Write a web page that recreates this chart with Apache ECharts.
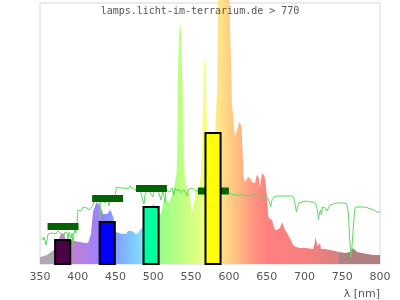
<!DOCTYPE html>
<html>
<head>
<meta charset="utf-8">
<script src="https://cdn.jsdelivr.net/npm/echarts@6/dist/echarts.min.js"></script>
<style>html,body{margin:0;padding:0;background:#fff}#c{width:400px;height:300px}</style>
</head>
<body>
<div id="c"></div>
<script>
// Lamp spectrum (relative intensity) by wavelength in nm
const spectrumWl = [350,355.3,359.3,361.9,364.6,367.2,368.5,371,374,376,378,379.5,381,383,386,389,391,396,403,409.6,413.5,415,417.5,418.8,420.1,422.8,425.4,428,430.7,433.4,436,438.7,441.3,443.3,445.3,447.3,449.3,450.6,453.2,458.5,463.8,466.5,469,471.8,474.4,477,478.4,479.7,482.4,485,487.6,490,494,497,500,502,504,506,508.2,510,511.5,512.8,515.4,516.8,518,520.7,523.4,525.4,527.3,529.3,530.6,531.3,532.6,534,535.3,536.6,538,539.3,540.6,542,544.6,547.2,548.5,550.5,552.5,554.5,556.5,559,561,563,564.4,565.7,567,568.4,569.7,571,573,577,581,584.6,586,588.2,592.2,596.2,600.1,601.5,602.8,604,605.5,606.8,608,610.3,612,613.5,615.2,616.8,618.2,619.2,621.3,623.6,625.3,628,630.2,632.6,634.6,636.8,638.5,639.9,641.2,642.5,643.8,645.1,647.1,648.7,650.4,651.8,653,654.4,657,659,661,663.7,667.6,670.3,672.3,674.3,677,679.6,682.2,684.9,688.8,694.1,702,711.3,713.3,714.6,716,717.3,719.3,720.6,722,727.2,733.8,740.4,745,747,753.7,760.3,764.3,766.9,769.6,776.2,782.8,790.7,800];
const spectrumVal = [7,8,9,11,12,13,14,16,20,27,30,32,31,27,22,21,24,23,22,21,21,20,30,42,52,58,62,60,56,50,48,50,52,54,53,46,36,32,31,30,30,33,35,33,31,30,28,31,34,35,38,45,52,55,61,62,55,50,48,50,55,60,63,67,63,62,66,72,76,78,90,100,190,230,236,239,238,160,105,85,76,74,70,48,46,64,76,78,76,90,120,155,200,207,180,140,100,90,120,177,300,320,330,320,280,240,200,160,150,135,128,126,137,142,144,138,110,88,82,81,87,86,82,81,81,89,91,86,77,84,91,92,88,80,67,49,46,46,44,39,34,34,36,42,38,34,31,27,24,19,17,16,16,15,20,27,28,18,16,21,15,15,14,13,12,11,11,12,16,18,12,11,10,9,9];

// Reference spectrum (green line)
const refWl = [351,352.6,354,355.3,356.6,358,359.3,360.6,363,366,368.5,371,373.8,376.5,379,381.8,383,385.7,387,388.4,391,392.4,393.7,395,396.3,397.6,399,400.3,401.6,404.3,407,409.6,412.2,414.9,417.5,420.1,421.5,424.1,426.8,428,429.4,430.7,433.4,436,438.7,441.3,442.6,445.3,448,450,451.3,453.2,455.9,458.5,461.2,463.8,466.5,469.1,471.8,474.4,477,479.7,482.4,485,486.3,487.6,489,491.6,494.3,496.9,499.5,500.9,503.5,506.2,508.8,510.1,512.8,515.4,516.8,519.4,522,524.7,527.3,528.7,531.3,534,536.6,539.3,542,544.6,545.9,548.5,551.2,553.8,556.5,559.1,565,572,580,588,595,601.5,605.5,609.4,613.4,617.4,621.3,625.3,629.3,633.2,637.2,641.2,645.2,649.1,651.8,653.7,655.3,657,659.7,663.7,670.3,676.9,683.5,686.2,688.2,689.5,690.8,692.8,696.8,702,707.4,712.6,715.3,717.3,718.6,719.9,721.2,722.5,723.9,725.9,727.9,729.8,731.8,733.8,736.4,741.7,747,752.3,756.3,758.3,759.6,760.7,761.6,762.5,763.6,764.9,766.3,768.2,773.5,780.1,784.1,788.1,792,796,800];
const refVal = [26,28,24,27,25,19,24,30,29,31,32,30,33,31,33,28,32,31,24,32,26,31,18,31,34,31,42,54,56,53,57,55,56,54,56,59,64,66,63,69,44,62,64,61,65,58,64,62,65,71,77,75,76,78,76,77,75,78,76,77,74,76,75,76,63,60,69,74,73,75,67,74,73,74,72,64,75,61,74,75,72,76,69,76,73,75,71,74,73,68,74,73,76,74,73,74,72,73,71,72,70,71,69,70,68,70,68,69,68,70,68,69,68,67,66,61,57,64,67,68,68,68,68,66,57,52,57,61,62,63,62,62,60,52,44,51,54,49,57,59,56,53,56,59,60,61,61,61,60,49,29,16,7,14,24,39,54,57,57,57,56,55,54,52,52];

// Band bars (start nm, end nm, value)
const bandStart = [370, 429, 487, 569];
const bandEnd = [390, 449, 507, 589];
const bandValue = [24, 42, 57, 131];
const bandColors = ['#4b0047', '#0000ff', '#00ffa0', '#ffff00'];

// Reference level markers (start nm, end nm, value)
const markStart = [360, 419, 477, 559];
const markEnd = [401, 460, 518, 600];
const markValue = [37.5, 65.5, 75.5, 73];

const xTicks = [350, 800, 50];

const chart = echarts.init(document.getElementById('c'), null, {renderer: 'canvas'});

function off(nm) { return (nm - 350) / 450; }
const grad = new echarts.graphic.LinearGradient(0, 0, 1, 0, [
  {offset: off(350), color: '#b0a8b0'},
  {offset: off(369), color: '#b0a8b0'},
  {offset: off(370), color: '#c088c8'},
  {offset: off(391), color: '#c080d2'},
  {offset: off(430), color: '#a080ff'},
  {offset: off(450), color: '#80a0ff'},
  {offset: off(485), color: '#80e0ff'},
  {offset: off(498), color: '#80ffc0'},
  {offset: off(510), color: '#98ff88'},
  {offset: off(560), color: '#e0ff80'},
  {offset: off(570), color: '#f6ff80'},
  {offset: off(590), color: '#ffe088'},
  {offset: off(610), color: '#ffc080'},
  {offset: off(630), color: '#ff9880'},
  {offset: off(650), color: '#ff8080'},
  {offset: off(700), color: '#f88080'},
  {offset: off(745), color: '#d88080'},
  {offset: off(746), color: '#b08080'},
  {offset: off(800), color: '#b08080'}
]);

const spectrumData = spectrumWl.map((w, i) => [w, spectrumVal[i]]);
const refData = refWl.map((w, i) => [w, refVal[i]]);
const bandData = bandStart.map((s, i) => [s, bandEnd[i], bandValue[i]]);
const markData = markStart.map((s, i) => [s, markEnd[i], markValue[i]]);

chart.setOption({
  animation: false,
  title: {
    text: 'lamps.licht-im-terrarium.de > 770',
    left: 'center',
    top: 1,
    textStyle: {fontFamily: 'DejaVu Sans Mono', fontSize: 10, fontWeight: 'normal', color: '#555'}
  },
  grid: {left: 40, right: 20, top: 3, bottom: 36, show: true, borderColor: '#d6d6d6', borderWidth: 1},
  xAxis: {
    type: 'value', min: xTicks[0], max: xTicks[1], interval: xTicks[2],
    name: 'λ [nm]', nameLocation: 'end', nameGap: 0,
    nameTextStyle: {align: 'right', verticalAlign: 'top', padding: [25, 0, 0, 0], color: '#555', fontSize: 11, fontFamily: 'DejaVu Sans'},
    axisLine: {show: false}, axisTick: {show: false}, splitLine: {show: false},
    axisLabel: {color: '#555', fontSize: 11, fontFamily: 'DejaVu Sans', margin: 8}
  },
  yAxis: {type: 'value', min: 0, max: 261, show: false, splitLine: {show: false}},
  series: [
    {
      type: 'line', data: spectrumData, showSymbol: false, symbol: 'none', z: 1,
      lineStyle: {width: 0, opacity: 0}, areaStyle: {color: grad, opacity: 1}, clip: false
    },
    {
      type: 'line', data: refData, showSymbol: false, symbol: 'none', z: 2,
      lineStyle: {width: 1, color: '#5fd85f'}
    },
    {
      type: 'custom', z: 3, data: markData,
      renderItem: function (params, api) {
        const a = api.coord([api.value(0), api.value(2)]);
        const b = api.coord([api.value(1), api.value(2)]);
        return {type: 'rect', shape: {x: a[0], y: a[1] - 3.5, width: b[0] - a[0], height: 7}, style: {fill: '#006400'}};
      }
    },
    {
      type: 'custom', z: 4, data: bandData,
      renderItem: function (params, api) {
        const a = api.coord([api.value(0), api.value(2)]);
        const b = api.coord([api.value(1), 0]);
        return {type: 'rect', shape: {x: a[0], y: a[1], width: b[0] - a[0], height: b[1] - a[1]},
          style: {fill: bandColors[params.dataIndex], stroke: '#000', lineWidth: 2}};
      }
    }
  ]
});
</script>
</body>
</html>
